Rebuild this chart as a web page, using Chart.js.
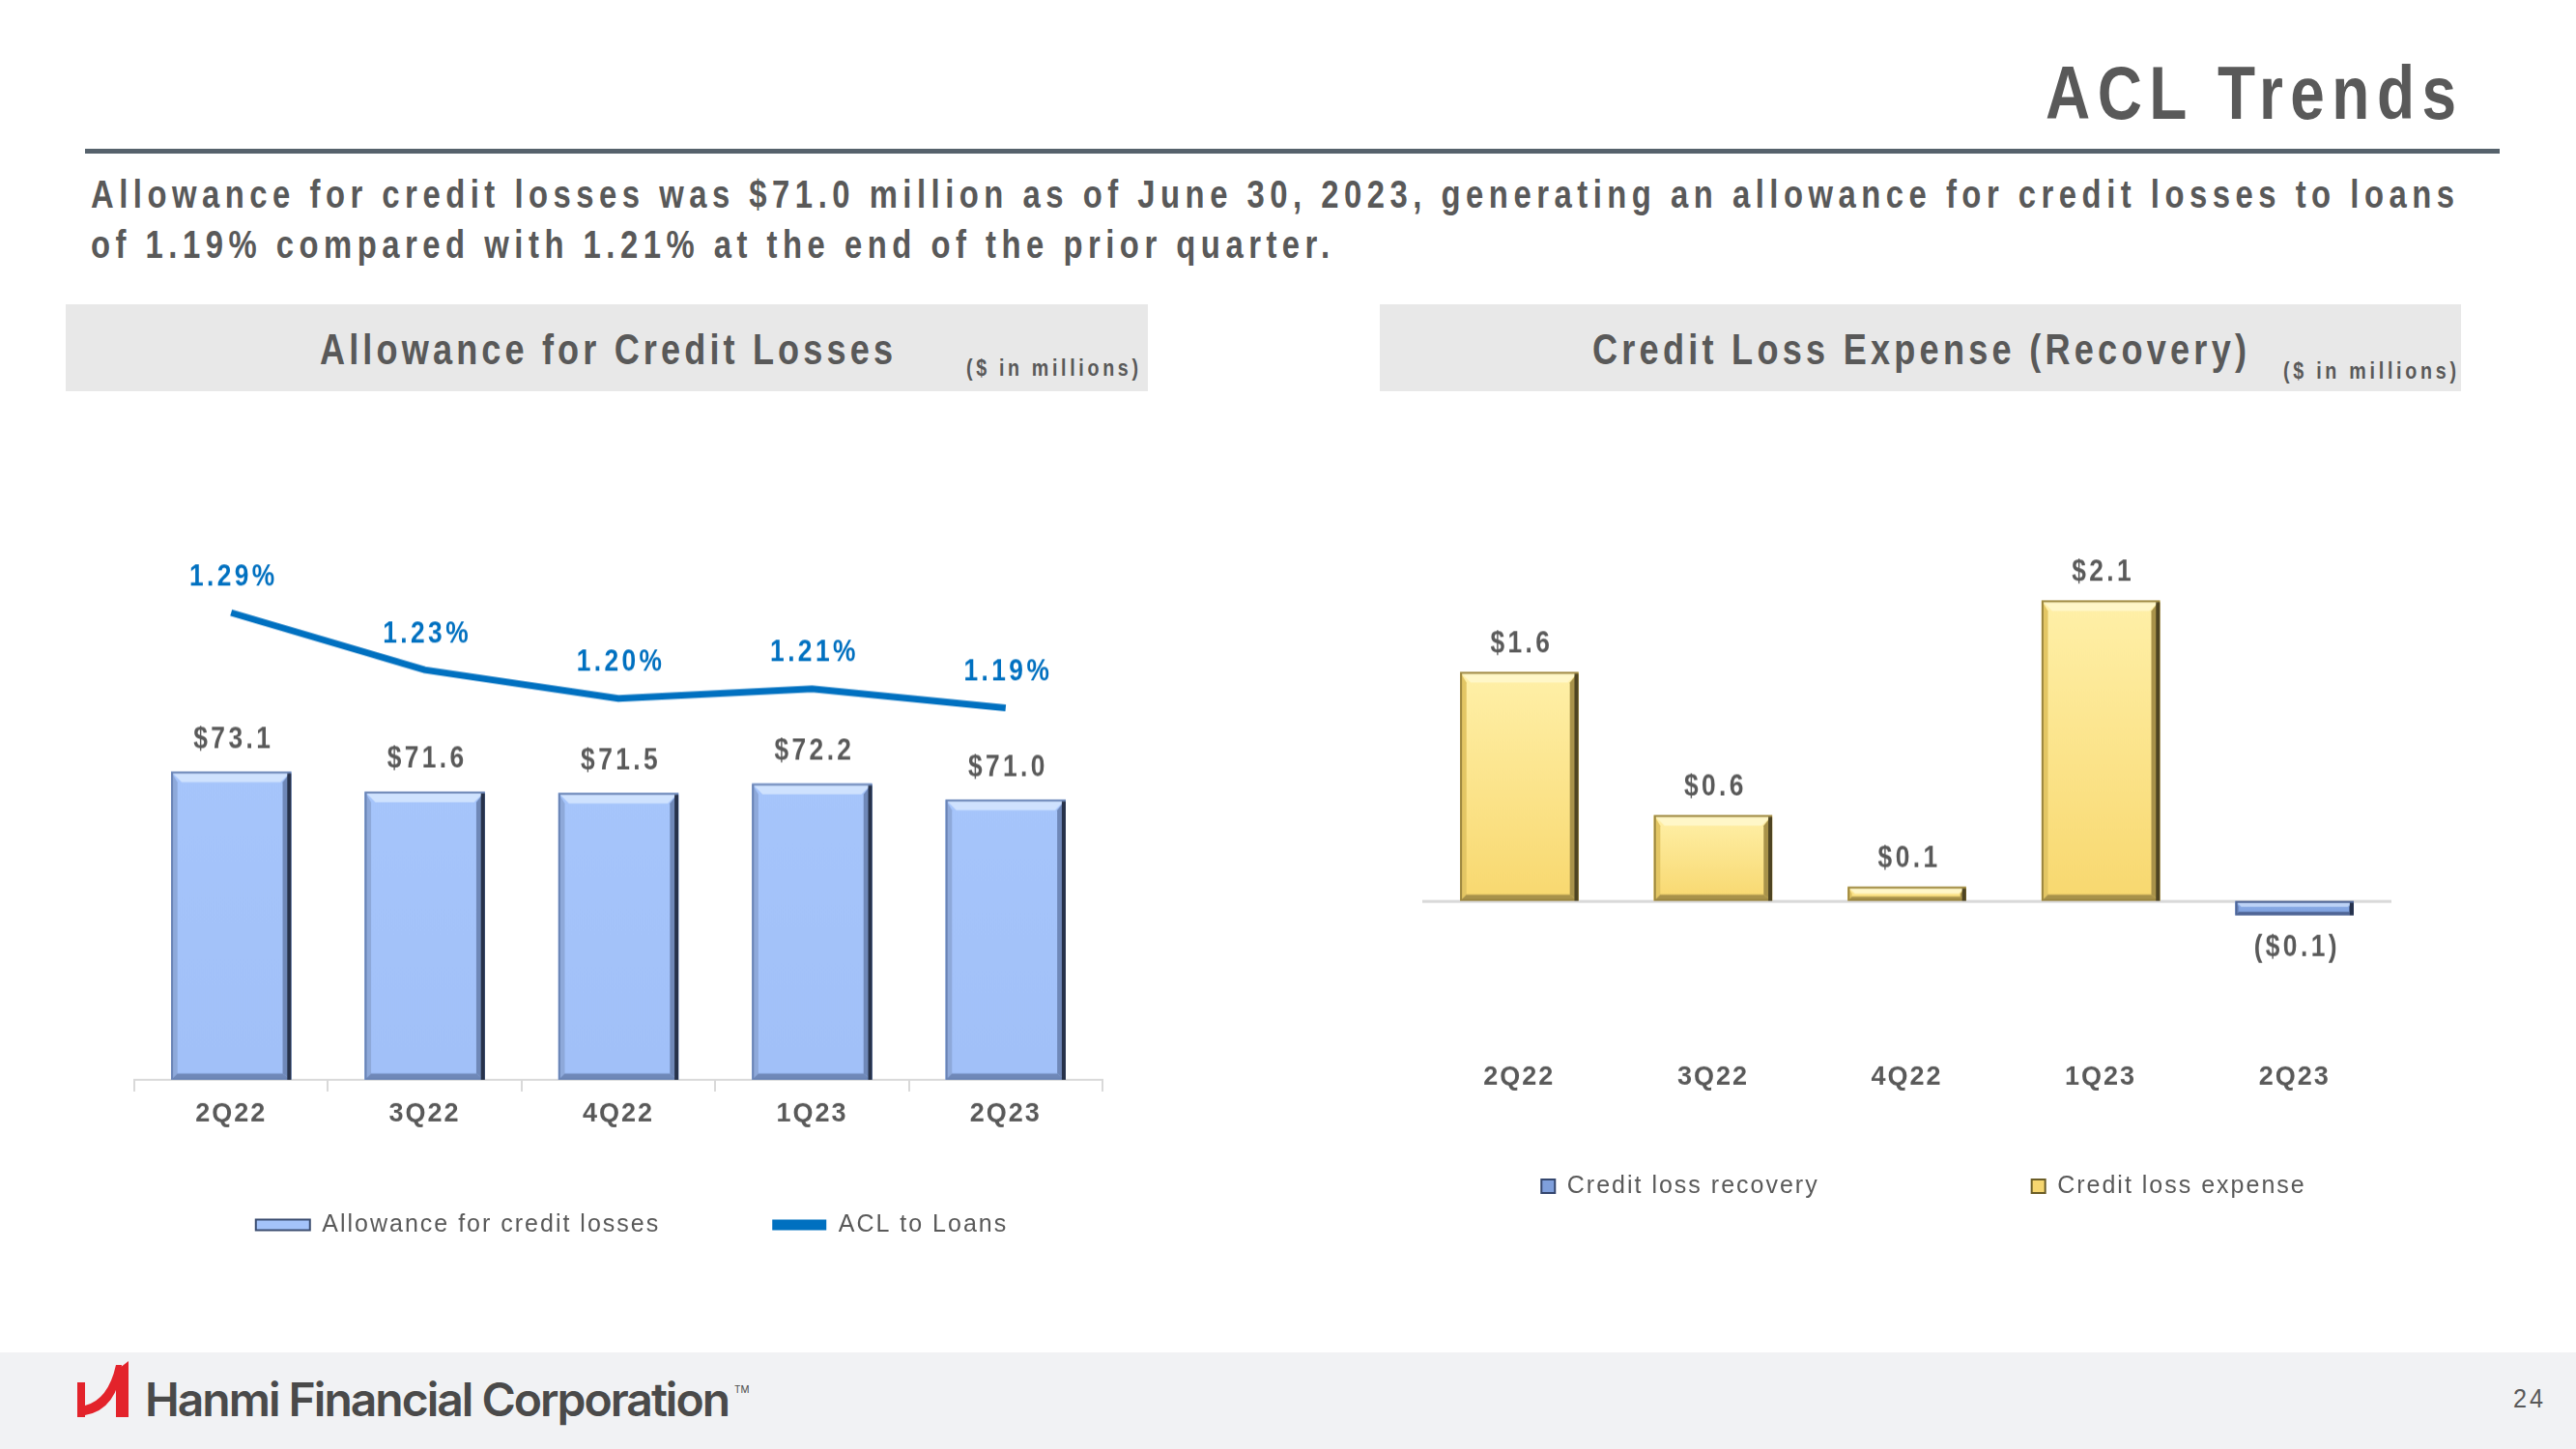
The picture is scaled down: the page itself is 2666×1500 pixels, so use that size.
<!DOCTYPE html>
<html>
<head>
<meta charset="utf-8">
<script src="https://cdn.jsdelivr.net/npm/chart.js@4.4.1/dist/chart.umd.min.js"></script>
<style>
  html, body { margin: 0; padding: 0; }
  body {
    width: 2666px; height: 1500px; position: relative; overflow: hidden; background: #fff;
    font-family: 'Liberation Sans', Arial, sans-serif; color: #595959;
  }
  .abs { position: absolute; }
  .txt { position: absolute; display: inline-block; white-space: nowrap; font-weight: bold; }
  #title { top: 57px; font-size: 78px; line-height: 78px; }
  #rule { left: 88px; top: 154px; width: 2499px; height: 5px; background: #56626c; }
  .intro { font-size: 40px; line-height: 52px; }
  .head { top: 315px; height: 90px; background: #e8e8e8; }
  .hname { top: 340px; font-size: 44px; line-height: 44px; }
  .unit { font-size: 24px; line-height: 24px; }
  #footer { left: 0; top: 1400px; width: 2666px; height: 100px; background: #f1f2f4; }
  #brand { top: 1421px; font-family: Inter, 'Open Sans', sans-serif; font-weight: 600; font-size: 48px; color: #4a4a4a; line-height: 56px; }
  #tm { left: 760px; top: 1432px; font-family: Inter, sans-serif; font-size: 10px; font-weight: normal; color: #4a4a4a; }
  #page { top: 1434px; font-size: 28px; line-height: 28px; font-weight: normal; }
  .wrap { position: absolute; }
</style>
</head>
<body>
<span id="title" class="txt">ACL Trends</span>
<div id="rule" class="abs"></div>
<span id="intro1" class="txt intro" style="top:175px;">Allowance for credit losses was $71.0 million as of June 30, 2023, generating an allowance for credit losses to loans</span>
<span id="intro2" class="txt intro" style="top:227px;">of 1.19% compared with 1.21% at the end of the prior quarter.</span>

<div class="abs head" style="left:68px;width:1120px;"></div>
<div class="abs head" style="left:1428px;width:1119px;"></div>
<span id="headL" class="txt hname">Allowance for Credit Losses</span>
<span id="unitL" class="txt unit" style="top:369px;">($ in millions)</span>
<span id="headR" class="txt hname">Credit Loss Expense (Recovery)</span>
<span id="unitR" class="txt unit" style="top:372px;">($ in millions)</span>

<div class="wrap" style="left:0px;top:405px;width:1308px;height:884.5px;"><canvas id="allowanceChart"></canvas></div>
<div class="wrap" style="left:1330px;top:405px;width:1322px;height:844.5px;"><canvas id="expenseChart"></canvas></div>

<div id="footer" class="abs"></div>
<svg class="abs" style="left:76px;top:1405px;" width="64" height="66" viewBox="0 0 64 66">
  <rect x="4" y="26" width="8" height="36" fill="#e3232b"/>
  <path d="M12,50 Q36,44 44,8 L50,8 Q46,54 12,60 Z" fill="#e3232b"/>
  <path d="M44,14 L57,4 L57,62 L44,62 Z" fill="#e3232b"/>
</svg>
<span id="brand" class="txt">Hanmi Financial Corporation</span>
<span id="tm" class="txt">TM</span>
<span id="page" class="txt">24</span>

<script>
// narrow-looking slide text: squeeze glyphs, then spread letters to the measured width
function fitText(id, target, k, anchor, pos, spacing) {
    const el = document.getElementById(id);
    el.style.transform = 'none';
    el.style.letterSpacing = '0px';
    const n = el.textContent.length;
    const w0 = el.getBoundingClientRect().width;
    const s = spacing !== undefined ? spacing : (target / k - w0) / (n - 1);
    el.style.letterSpacing = s + 'px';
    el.style.transformOrigin = 'left center';
    el.style.transform = 'scaleX(' + k + ')';
    const left = anchor === 'left' ? pos : anchor === 'right' ? pos - target : pos - target / 2;
    el.style.left = left + 'px';
    return s;
}
const introSpacing = fitText('intro1', 2446, 0.82, 'left', 94);
fitText('intro2', 0, 0.82, 'left', 94, introSpacing);
fitText('title', 425, 0.82, 'right', 2542);
fitText('headL', 593, 0.82, 'center', 627);
fitText('headR', 677, 0.82, 'center', 1986);
fitText('unitL', 178, 0.82, 'left', 1000);
fitText('unitR', 179, 0.82, 'left', 2363);
fitText('brand', 606, 1, 'left', 150);
fitText('page', 31, 0.9, 'right', 2632);

const FONT = "'Liberation Sans', Arial, sans-serif";
const GRAY = '#595959';

// chart data
const quarters = ['2Q22', '3Q22', '4Q22', '1Q23', '2Q23'];
const allowanceValues = [73.1, 71.6, 71.5, 72.2, 71.0];
const aclToLoans = [1.29, 1.23, 1.20, 1.21, 1.19];
const lossRecovery = [null, null, null, null, -0.1];
const lossExpense = [1.6, 0.6, 0.1, 2.1, null];

Chart.defaults.font.family = FONT;
Chart.defaults.color = GRAY;

function poly(ctx, pts, fill) {
    ctx.beginPath();
    ctx.moveTo(pts[0][0], pts[0][1]);
    for (let k = 1; k < pts.length; k++) ctx.lineTo(pts[k][0], pts[k][1]);
    ctx.closePath();
    ctx.fillStyle = fill;
    ctx.fill();
}

// bevelled look of the office-style bars, drawn over each bar element
const bevelBars = {
    id: 'bevelBars',
    afterDatasetsDraw(chart) {
        const ctx = chart.ctx;
        const ca = chart.chartArea;
        chart.data.datasets.forEach((ds, i) => {
            if (!ds.bevel) return;
            const bv = ds.bevel;
            chart.getDatasetMeta(i).data.forEach((el, j) => {
                if (ds.data[j] === null) return;
                const p = el.getProps(['x', 'y', 'base', 'width'], true);
                const l = p.x - p.width / 2, r = p.x + p.width / 2;
                const t = Math.max(Math.min(p.y, p.base), ca.top);
                const b = Math.min(Math.max(p.y, p.base), ca.bottom);
                const s = Math.min(bv.size, (b - t) / 2, (r - l) / 2);
                ctx.save();
                const g = ctx.createLinearGradient(0, t, 0, b);
                g.addColorStop(0, bv.faceTop);
                g.addColorStop(1, bv.faceBottom);
                ctx.fillStyle = g;
                ctx.fillRect(l, t, r - l, b - t);
                poly(ctx, [[l, t], [r, t], [r - s, t + s], [l + s, t + s]], bv.light);
                poly(ctx, [[l, t], [l + s * 0.6, t + s], [l + s * 0.6, b - s * 0.6], [l, b]], bv.side);
                poly(ctx, [[r, t], [r, b], [r - s * 0.8, b - s * 0.6], [r - s * 0.8, t + s]], bv.shade);
                poly(ctx, [[l, b], [r, b], [r - s * 0.8, b - s * 0.6], [l + s * 0.6, b - s * 0.6]], bv.shade);
                ctx.strokeStyle = bv.edge;
                ctx.lineWidth = 2;
                ctx.strokeRect(l + 1, t + 1, r - l - 2, b - t - 2);
                ctx.fillStyle = bv.dark;
                ctx.fillRect(r - 4, t + 2, 4, b - t - 2);
                ctx.restore();
            });
        });
    }
};

// value labels above (or below for negatives) each mark, in a narrow bold face
const valueLabels = {
    id: 'valueLabels',
    afterDatasetsDraw(chart) {
        const ctx = chart.ctx;
        chart.data.datasets.forEach((ds, i) => {
            if (!ds.labelText) return;
            chart.getDatasetMeta(i).data.forEach((el, j) => {
                const v = ds.data[j];
                if (v === null) return;
                const p = el.getProps(['x', 'y'], true);
                const dy = v < 0 ? ds.labelGapBelow : -ds.labelGap;
                ctx.save();
                ctx.translate(p.x, p.y + dy);
                ctx.scale(0.85, 1);
                ctx.font = 'bold 31px ' + FONT;
                ctx.letterSpacing = '4px';
                ctx.fillStyle = ds.labelColor;
                ctx.textAlign = 'center';
                ctx.textBaseline = 'middle';
                ctx.fillText(ds.labelText(v), 3, 0);
                ctx.restore();
            });
        });
    }
};

// wide letter spacing for ticks and legend, like the slide
const spacedText = {
    id: 'spacedText',
    beforeLayout(chart) { chart.ctx.letterSpacing = '2px'; },
    beforeDraw(chart) { chart.ctx.letterSpacing = '2px'; }
};

// an invisible axis only used to reserve a fixed margin
function spacer(position, width) {
    return {
        type: 'linear',
        position: position,
        display: true,
        ticks: { display: false },
        grid: { display: false },
        border: { display: false },
        afterFit: axis => { axis.width = width; }
    };
}

const blueBevel = {
    size: 11, faceTop: '#a6c5fb', faceBottom: '#a1c0f8',
    light: '#cfe2fe', side: '#8ea9da', shade: '#6f88b8', edge: '#6a84b5', dark: '#27324a'
};
const goldBevel = {
    size: 11, faceTop: '#fff0a8', faceBottom: '#f8d86f',
    light: '#fff7c8', side: '#e3c664', shade: '#a8924a', edge: '#9c8740', dark: '#4e4422'
};
const recoveryBevel = {
    size: 6, faceTop: '#8fb0ea', faceBottom: '#7c9fdd',
    light: '#bcd2f6', side: '#6f8cc4', shade: '#4f6696', edge: '#4f6696', dark: '#26324c'
};

const allowanceY = spacer('left', 139);
allowanceY.min = 50;
allowanceY.max = 100;
const aclY = spacer('right', 167);
aclY.min = 0.8;
aclY.max = 1.5;

new Chart(document.getElementById('allowanceChart'), {
    type: 'bar',
    data: {
        labels: quarters,
        datasets: [
            {
                label: 'Allowance for credit losses',
                data: allowanceValues,
                backgroundColor: '#a4c3fa',
                borderWidth: 0,
                barPercentage: 0.62,
                categoryPercentage: 1,
                yAxisID: 'y',
                bevel: blueBevel,
                labelText: v => '$' + v.toFixed(1),
                labelColor: GRAY,
                labelGap: 33
            },
            {
                type: 'line',
                label: 'ACL to Loans',
                data: aclToLoans,
                borderColor: '#0070c0',
                backgroundColor: '#0070c0',
                borderWidth: 7,
                pointRadius: 0,
                tension: 0,
                yAxisID: 'y1',
                labelText: v => v.toFixed(2) + '%',
                labelColor: '#0070c0',
                labelGap: 37
            }
        ]
    },
    options: {
        responsive: true,
        maintainAspectRatio: false,
        animation: false,
        layout: { padding: { left: 0, right: 0, top: 22, bottom: 0 } },
        scales: {
            x: {
                grid: { display: true, drawOnChartArea: false, drawTicks: true, tickLength: 12, color: '#d9d9d9', lineWidth: 2 },
                border: { display: true, color: '#d9d9d9', width: 2 },
                ticks: { mirror: true, padding: -52, color: GRAY, font: { size: 27, weight: 'bold' } },
                afterFit: axis => { axis.height = 21.5; }
            },
            y: allowanceY,
            y1: aclY
        },
        plugins: {
            tooltip: { enabled: false },
            legend: {
                position: 'bottom',
                labels: {
                    boxWidth: 56,
                    boxHeight: 11,
                    padding: 116,
                    color: GRAY,
                    font: { size: 25 },
                    generateLabels(chart) {
                        const items = Chart.defaults.plugins.legend.labels.generateLabels(chart);
                        items.forEach(it => {
                            if (it.datasetIndex === 1) {
                                it.lineWidth = 0;
                            } else {
                                it.fillStyle = '#a4c3fa';
                                it.strokeStyle = '#3b4d70';
                                it.lineWidth = 2;
                            }
                        });
                        return items;
                    }
                }
            }
        }
    },
    plugins: [spacedText, bevelBars, valueLabels]
});

const expenseY = spacer('left', 142);
expenseY.stacked = true;
expenseY.min = -0.4;
expenseY.max = 2.5;
expenseY.ticks = { display: false, stepSize: 0.1 };
expenseY.grid = {
    display: true,
    drawTicks: false,
    lineWidth: 3,
    color: c => Math.abs(c.tick.value) < 1e-9 ? '#d9d9d9' : 'rgba(0,0,0,0)'
};

new Chart(document.getElementById('expenseChart'), {
    type: 'bar',
    data: {
        labels: quarters,
        datasets: [
            {
                label: 'Credit loss recovery',
                data: lossRecovery,
                backgroundColor: '#7f9fdc',
                borderWidth: 0,
                barPercentage: 0.61,
                categoryPercentage: 1,
                bevel: recoveryBevel,
                labelText: v => '($' + Math.abs(v).toFixed(1) + ')',
                labelColor: GRAY,
                labelGap: 29,
                labelGapBelow: 34
            },
            {
                label: 'Credit loss expense',
                data: lossExpense,
                backgroundColor: '#f6d670',
                borderWidth: 0,
                barPercentage: 0.61,
                categoryPercentage: 1,
                bevel: goldBevel,
                labelText: v => '$' + v.toFixed(1),
                labelColor: GRAY,
                labelGap: 29,
                labelGapBelow: 34
            }
        ]
    },
    options: {
        responsive: true,
        maintainAspectRatio: false,
        animation: false,
        layout: { padding: { left: 0, right: 0, top: 157, bottom: 0 } },
        scales: {
            x: {
                stacked: true,
                grid: { display: false, drawTicks: false },
                border: { display: false },
                ticks: { mirror: true, padding: -140, color: GRAY, font: { size: 27, weight: 'bold' } },
                afterFit: axis => { axis.height = 3.3; }
            },
            y: expenseY,
            yPad: spacer('right', 177)
        },
        plugins: {
            tooltip: { enabled: false },
            legend: {
                position: 'bottom',
                labels: {
                    boxWidth: 14,
                    boxHeight: 14,
                    padding: 220,
                    color: GRAY,
                    font: { size: 25 },
                    generateLabels(chart) {
                        const items = Chart.defaults.plugins.legend.labels.generateLabels(chart);
                        items.forEach(it => {
                            it.strokeStyle = it.datasetIndex === 0 ? '#34466e' : '#6b5d26';
                            it.lineWidth = 2;
                        });
                        return items;
                    }
                }
            }
        }
    },
    plugins: [spacedText, bevelBars, valueLabels]
});
</script>
</body>
</html>
